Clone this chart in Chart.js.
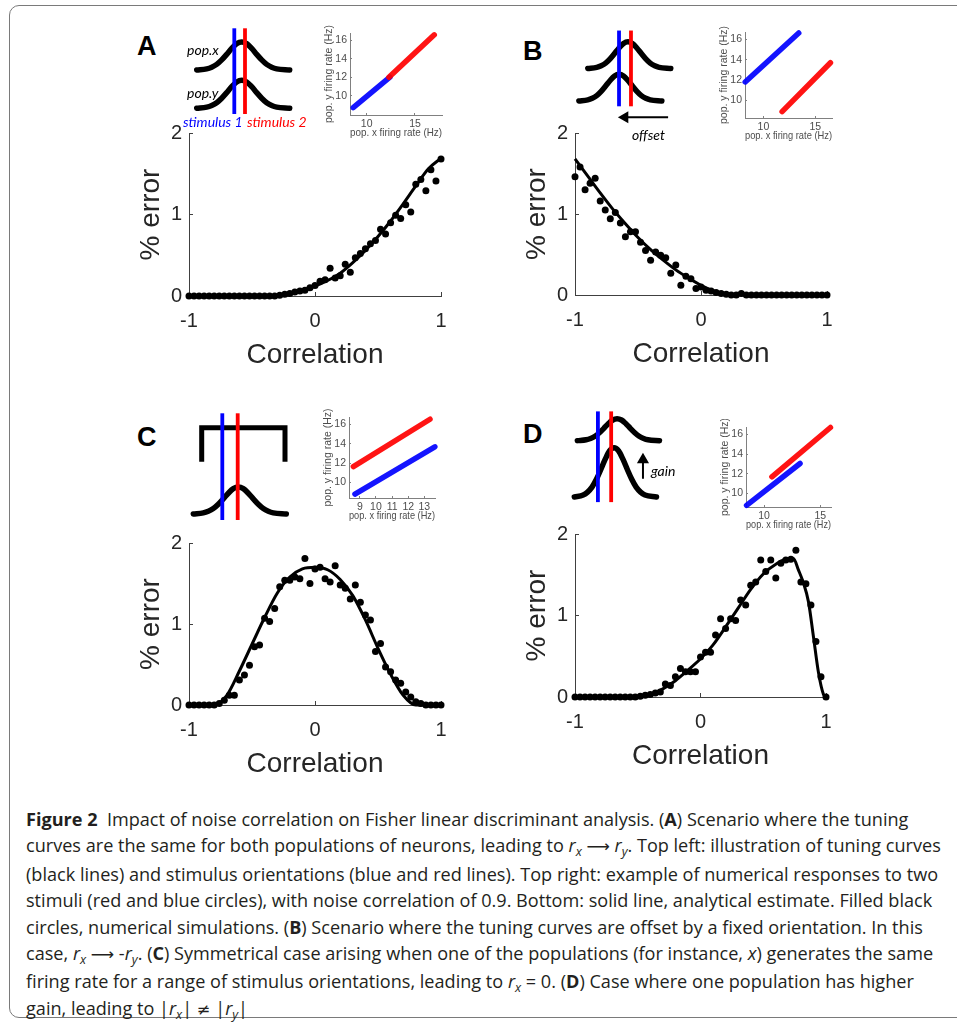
<!DOCTYPE html>
<html>
<head>
<meta charset="utf-8">
<script src="https://cdn.jsdelivr.net/npm/chart.js@4.4.1/dist/chart.umd.min.js"></script>
<style>
html, body { margin: 0; padding: 0; background: #fff; overflow: hidden; width: 957px; height: 1028px; }
#frame { position: absolute; left: 9px; top: 5px; width: 1000px; height: 1013px; border: 1.5px solid #7a7a7a; border-radius: 10px; box-sizing: border-box; }
canvas { position: absolute; }
.lbl { position: absolute; font-family: Lato, sans-serif; font-style: italic; font-size: 14px; line-height: 14px; white-space: nowrap; color: #000; }
.panel { position: absolute; font-family: 'Liberation Sans', Arial, sans-serif; font-weight: bold; font-size: 27px; line-height: 27px; color: #000; }
#caption { position: absolute; left: 26px; top: 806px; font-family: 'Open Sans', sans-serif; font-size: 18.1px; line-height: 26.4px; color: #231f20; white-space: nowrap; }
#caption sub { font-size: 0.7em; line-height: 0; vertical-align: -0.28em; font-style: italic; }
#caption .ar { font-family: 'DejaVu Sans', sans-serif; font-size: 0.9em; }
</style>
</head>
<body>
<div id="frame"></div>

<canvas id="illA" width="130" height="105" style="left:180px;top:20px"></canvas>
<canvas id="illB" width="130" height="125" style="left:560px;top:20px"></canvas>
<canvas id="illC" width="120" height="120" style="left:180px;top:405px"></canvas>
<canvas id="illD" width="120" height="115" style="left:560px;top:400px"></canvas>

<canvas id="insA" width="126" height="114" style="left:320px;top:25px"></canvas>
<canvas id="insB" width="121" height="118" style="left:715px;top:24px"></canvas>
<canvas id="insC" width="120" height="113" style="left:319px;top:409px"></canvas>
<canvas id="insD" width="119" height="112" style="left:716px;top:419px"></canvas>

<canvas id="chartA" width="326" height="251" style="left:129px;top:121px"></canvas>
<canvas id="chartB" width="326" height="250" style="left:515px;top:121px"></canvas>
<canvas id="chartC" width="326" height="250" style="left:129px;top:531px"></canvas>
<canvas id="chartD" width="325" height="251" style="left:515px;top:522px"></canvas>

<div class="panel" style="left:137px;top:33px">A</div>
<div class="panel" style="left:523px;top:38px">B</div>
<div class="panel" style="left:137px;top:424px">C</div>
<div class="panel" style="left:523px;top:421px">D</div>

<div class="lbl" style="left:187px;top:43px">pop.x</div>
<div class="lbl" style="left:187px;top:86px">pop.y</div>
<div class="lbl" style="left:183px;top:115px;color:#0000ff">stimulus 1</div>
<div class="lbl" style="left:247px;top:115px;color:#ff0000">stimulus 2</div>
<div class="lbl" style="left:632px;top:128px">offset</div>
<div class="lbl" style="left:651px;top:464px">gain</div>

<div id="caption"><b>Figure 2</b>&nbsp; Impact of noise correlation on Fisher linear discriminant analysis. (<b>A</b>) Scenario where the tuning<br>curves are the same for both populations of neurons, leading to <i>r</i><sub>x</sub> <span class="ar">⟶</span> <i>r</i><sub>y</sub>. Top left: illustration of tuning curves<br>(black lines) and stimulus orientations (blue and red lines). Top right: example of numerical responses to two<br>stimuli (red and blue circles), with noise correlation of 0.9. Bottom: solid line, analytical estimate. Filled black<br>circles, numerical simulations. (<b>B</b>) Scenario where the tuning curves are offset by a fixed orientation. In this<br>case, <i>r</i><sub>x</sub> <span class="ar">⟶</span> -<i>r</i><sub>y</sub>. (<b>C</b>) Symmetrical case arising when one of the populations (for instance, <i>x</i>) generates the same<br>firing rate for a range of stimulus orientations, leading to <i>r</i><sub>x</sub> = 0. (<b>D</b>) Case where one population has higher<br>gain, leading to |<i>r</i><sub>x</sub>| <span class="ar">≠</span> |<i>r</i><sub>y</sub>|</div>

<script>
// --- dati: correlazione (asse x) e % errore ---
const corrGrid = [-1, -0.96, -0.92, -0.88, -0.84, -0.8, -0.76, -0.72, -0.68, -0.64, -0.6, -0.56, -0.52, -0.48, -0.44, -0.4, -0.36, -0.32, -0.28, -0.24, -0.2, -0.16, -0.12, -0.08, -0.04,
  0, 0.04, 0.08, 0.12, 0.16, 0.2, 0.24, 0.28, 0.32, 0.36, 0.4, 0.44, 0.48, 0.52, 0.56, 0.6, 0.64, 0.68, 0.72, 0.76, 0.8, 0.84, 0.88, 0.92, 0.96, 1];

const simA = [0, 0, 0, 0, 0, 0, 0, 0, 0, 0, 0, 0, 0, 0, 0, 0, 0, 0,
  0.01, 0.02, 0.03, 0.05, 0.06, 0.07, 0.10, 0.13, 0.18, 0.20, 0.34, 0.22, 0.25, 0.39, 0.29, 0.47, 0.52, 0.58, 0.64, 0.68,
  0.82, 0.76, 0.90, 0.99, 0.95, 1.12, 1.03, 1.37, 1.43, 1.29, 1.55, 1.41, 1.68];
const curveAx = [-1, -0.3, -0.2, -0.1, 0, 0.1, 0.2, 0.3, 0.4, 0.5, 0.6, 0.7, 0.8, 0.9, 1];
const curveAy = [0, 0, 0.03, 0.07, 0.12, 0.19, 0.28, 0.41, 0.56, 0.73, 0.92, 1.13, 1.35, 1.56, 1.69];

const simB = [1.46, 1.58, 1.30, 1.38, 1.44, 1.16, 1.05, 0.94, 1.02, 0.89, 0.72, 0.78, 0.78, 0.65, 0.55, 0.43, 0.53, 0.49, 0.46, 0.27,
  0.37, 0.12, 0.23, 0.20, 0.08, 0.10, 0.06, 0.05, 0.03, 0.02, 0.01,
  0, 0, 0.02, 0, 0, 0, 0, 0, 0, 0, 0, 0, 0, 0, 0, 0, 0, 0, 0, 0];
const curveBx = [-1, -0.9, -0.8, -0.7, -0.6, -0.5, -0.4, -0.3, -0.2, -0.1, 0, 0.1, 0.2, 0.3, 1];
const curveBy = [1.68, 1.47, 1.26, 1.06, 0.88, 0.71, 0.56, 0.43, 0.31, 0.21, 0.12, 0.05, 0.01, 0, 0];

const simC = [0, 0, 0, 0, 0, 0, 0.02,
  0.06, 0.12, 0.12, 0.31, 0.37, 0.49, 0.72, 0.74, 1.07, 1.03, 1.19, 1.46, 1.54, 1.54, 1.58, 1.56, 1.81, 1.50,
  1.68,
  1.70, 1.56, 1.52, 1.72, 1.48, 1.44, 1.31, 1.48, 1.27, 1.11, 1.05, 0.66, 0.76, 0.47, 0.41, 0.31, 0.27, 0.16, 0.10, 0.04, 0.02, 0, 0, 0, 0];
const curveCx = [-1, -0.8, -0.7, -0.6, -0.5, -0.4, -0.3, -0.2, -0.1, 0, 0.1, 0.2, 0.3, 0.4, 0.5, 0.6, 0.7, 0.8, 1];
const curveCy = [0, 0, 0.12, 0.42, 0.75, 1.08, 1.38, 1.58, 1.68, 1.70, 1.67, 1.55, 1.35, 1.05, 0.70, 0.38, 0.12, 0, 0];

const simD = [0, 0, 0, 0, 0, 0, 0, 0, 0, 0, 0, 0, 0,
  0.01, 0.02, 0.03, 0.05, 0.06, 0.16, 0.14, 0.25, 0.35, 0.31, 0.31, 0.31, 0.49, 0.55, 0.55, 0.76, 0.96, 0.84, 0.96, 0.94,
  1.19, 1.13, 1.37, 1.41, 1.68, 1.54, 1.68, 1.46, 1.64, 1.68, 1.69, 1.80, 1.41, 1.39, 1.13, 0.68, 0.25, 0];
const curveDx = [-1, -0.5, -0.4, -0.3, -0.2, -0.1, 0, 0.1, 0.2, 0.3, 0.4, 0.5, 0.6, 0.7, 0.74, 0.78, 0.82, 0.86, 0.9, 0.94, 0.98, 1];
const curveDy = [0, 0, 0.03, 0.10, 0.20, 0.33, 0.47, 0.64, 0.86, 1.09, 1.32, 1.51, 1.63, 1.70, 1.70, 1.56, 1.40, 1.17, 0.74, 0.30, 0.03, 0];

const mainXTicks = [-1, 0, 1];
const mainYTicks = [0, 1, 2];

// --- inset: nuvole di risposte (estremi in Hz, pop. x / pop. y) ---
const insetXTicks = [10, 15];
const insetXTicksC = [9, 10, 11, 12, 13];
const insetYTicks = [10, 12, 14, 16];
const cloudA = { blue: [[8.6, 8.7], [12.4, 12.0]], red: [[12.3, 12.0], [17.0, 16.6]] };
const cloudB = { blue: [[8.25, 11.8], [13.4, 16.65]], red: [[11.8, 8.85], [16.45, 13.7]] };
const cloudC = { blue: [[8.7, 8.8], [13.65, 13.7]], red: [[8.6, 11.65], [13.35, 16.55]] };
const cloudD = { blue: [[8.45, 8.8], [13.2, 13.05]], red: [[10.7, 11.7], [15.9, 16.7]] };

// --- illustrazioni curve di tuning (forma a campana) ---
const bumpOffsets = [-4.5, -3.5, -3, -2.5, -2, -1.5, -1, -0.5, 0, 0.5, 1, 1.5, 2, 2.5, 3, 3.5, 4.8];
const bumpShape = [0, 0.04, 0.10, 0.20, 0.36, 0.56, 0.77, 0.94, 1, 0.94, 0.77, 0.56, 0.36, 0.20, 0.10, 0.04, 0];

const axisFamily = "'Liberation Sans', Arial, sans-serif";
const base = { responsive: false, animation: false, devicePixelRatio: 1, plugins: { legend: { display: false }, tooltip: { enabled: false } } };

function xy(xs, ys) { return xs.map((x, i) => ({ x: x, y: ys[i] })); }
// niente padding automatico delle etichette: decide solo layout.padding
function noPad(s) { s.paddingTop = 0; s.paddingBottom = 0; s.paddingLeft = 0; s.paddingRight = 0; }

function mainChart(id, sim, cx, cy) {
  new Chart(document.getElementById(id), {
    type: 'scatter',
    data: { datasets: [
      { data: xy(corrGrid, sim), pointRadius: 3.5, pointBackgroundColor: '#000', pointBorderWidth: 0, clip: false },
      { data: xy(cx, cy), showLine: true, borderColor: '#000', borderWidth: 3, pointRadius: 0, cubicInterpolationMode: 'monotone', clip: false }
    ] },
    options: Object.assign({}, base, {
      layout: { padding: { top: 12, right: 14, left: 0, bottom: 0 } },
      scales: {
        x: {
          type: 'linear', min: -1, max: 1,
          afterBuildTicks: s => { s.ticks = mainXTicks.map(v => ({ value: v })); },
          afterFit: s => { s.height = 76; noPad(s); },
          ticks: { color: '#262626', font: { family: axisFamily, size: 20 }, padding: 17, maxRotation: 0 },
          grid: { drawOnChartArea: false, tickLength: -4, color: '#404040' },
          border: { color: '#404040', width: 1 },
          title: { display: true, text: 'Correlation', color: '#262626', font: { family: axisFamily, size: 28 }, padding: 0 }
        },
        y: {
          type: 'linear', min: 0, max: 2,
          afterBuildTicks: s => { s.ticks = mainYTicks.map(v => ({ value: v })); },
          afterFit: s => { s.width = 60; noPad(s); },
          ticks: { color: '#262626', font: { family: axisFamily, size: 20 }, padding: 11 },
          grid: { drawOnChartArea: false, tickLength: -4, color: '#404040' },
          border: { color: '#404040', width: 1 },
          title: { display: true, text: '% error', color: '#262626', font: { family: axisFamily, size: 28 }, padding: { top: 5, bottom: 0 } }
        }
      }
    })
  });
}

function insetChart(id, cloud, xr, yr, xticks) {
  const cloudLine = (pts, color) => ({ data: pts.map(p => ({ x: p[0], y: p[1] })), showLine: true, borderColor: color, borderWidth: 5.5, borderCapStyle: 'round', pointRadius: 0, clip: false });
  const small = { family: axisFamily, size: 10.5 };
  new Chart(document.getElementById(id), {
    type: 'scatter',
    data: { datasets: [cloudLine(cloud.red, 'rgba(255,0,0,0.92)'), cloudLine(cloud.blue, 'rgba(0,0,255,0.92)')] },
    options: Object.assign({}, base, {
      layout: { padding: { top: 8, right: 4, left: 0, bottom: 0 } },
      scales: {
        x: {
          type: 'linear', min: xr[0], max: xr[1],
          afterBuildTicks: s => { s.ticks = xticks.map(v => ({ value: v })); },
          afterFit: s => { s.height = 24; noPad(s); },
          ticks: { color: '#4d4d4d', font: small, padding: 5, maxRotation: 0 },
          grid: { drawOnChartArea: false, tickLength: -2, color: '#808080' },
          border: { color: '#808080', width: 1 },
          title: { display: true, text: 'pop. x firing rate (Hz)', color: '#4d4d4d', font: small, padding: 0 }
        },
        y: {
          type: 'linear', min: yr[0], max: yr[1],
          afterBuildTicks: s => { s.ticks = insetYTicks.map(v => ({ value: v })); },
          afterFit: s => { s.width = 30; noPad(s); },
          ticks: { color: '#4d4d4d', font: small, padding: 5 },
          grid: { drawOnChartArea: false, tickLength: -2, color: '#808080' },
          border: { color: '#808080', width: 1 },
          title: { display: true, text: 'pop. y firing rate (Hz)', color: '#4d4d4d', font: small, padding: { top: 3, bottom: 0 } }
        }
      }
    })
  });
}

// curves: [orientamento preferito, livello base, guadagno]
function illustration(id, xr, yr, curves, stimX, stimY, extras) {
  const datasets = [];
  stimX.forEach((sx, i) => datasets.push({
    data: [{ x: sx, y: stimY[0] }, { x: sx, y: stimY[1] }], showLine: true,
    borderColor: i === 0 ? '#0000ff' : '#ff0000', borderWidth: 3.8, pointRadius: 0, clip: false
  }));
  (extras || []).forEach(d => datasets.push(d));
  curves.forEach(c => datasets.push({
    data: bumpOffsets.map((d, i) => ({ x: c[0] + d, y: c[1] + c[2] * bumpShape[i] })), showLine: true,
    borderColor: '#000', borderWidth: 5.5, borderCapStyle: 'round', pointRadius: 0, cubicInterpolationMode: 'monotone', clip: false
  }));
  new Chart(document.getElementById(id), {
    type: 'scatter',
    data: { datasets: datasets },
    options: Object.assign({}, base, {
      layout: { padding: 0 },
      scales: { x: { display: false, min: xr[0], max: xr[1] }, y: { display: false, min: yr[0], max: yr[1] } }
    })
  });
}

function arrow(from, to, rot) {
  return { data: [{ x: from[0], y: from[1] }, { x: to[0], y: to[1] }], showLine: true, borderColor: '#000', borderWidth: 2,
    pointRadius: [0, 5], pointStyle: 'triangle', pointRotation: [0, rot], pointBackgroundColor: '#000', pointBorderColor: '#000', clip: false };
}

illustration('illA', [-6.17, 6.83], [0, 10.5], [[0, 5.5, 2.8], [0, 1.67, 2.8]], [-0.74, 0.33], [1.1, 9.67]);
illustration('illB', [-6.83, 6.17], [0, 12.5], [[0, 7.83, 3.0], [-1.0, 4.17, 3.0]], [-1.0, 0.34], [3.57, 12.1],
  [arrow([4.5, 2.33], [-0.35, 2.33], 270)]);
illustration('illC', [-5.83, 6.17], [0, 12], [[0, 1.1, 2.7]], [-1.6, -0.06], [0.5, 11.17],
  [{ data: xy([-3.66, -3.66, 4.67, 4.67], [6.33, 9.73, 9.73, 6.33]), showLine: true, borderColor: '#000', borderWidth: 5, borderJoinStyle: 'miter', pointRadius: 0, clip: false }]);
illustration('illD', [-5.67, 6.33], [0, 11.5], [[0, 7.67, 2.5], [-0.34, 1.25, 5.6]], [-2.17, -0.67], [0.67, 11.0],
  [arrow([2.93, 3.33], [2.93, 5.5], 0)]);

insetChart('insA', cloudA, [8.27, 17.8], [7.9, 16.8], insetXTicks);
insetChart('insB', cloudB, [8.23, 16.6], [8.22, 16.75], insetXTicks);
insetChart('insC', cloudC, [8.33, 13.66], [8.4, 16.78], insetXTicksC);
insetChart('insD', cloudD, [8.4, 15.95], [8.64, 16.75], insetXTicks);

mainChart('chartA', simA, curveAx, curveAy);
mainChart('chartB', simB, curveBx, curveBy);
mainChart('chartC', simC, curveCx, curveCy);
mainChart('chartD', simD, curveDx, curveDy);
</script>
</body>
</html>
